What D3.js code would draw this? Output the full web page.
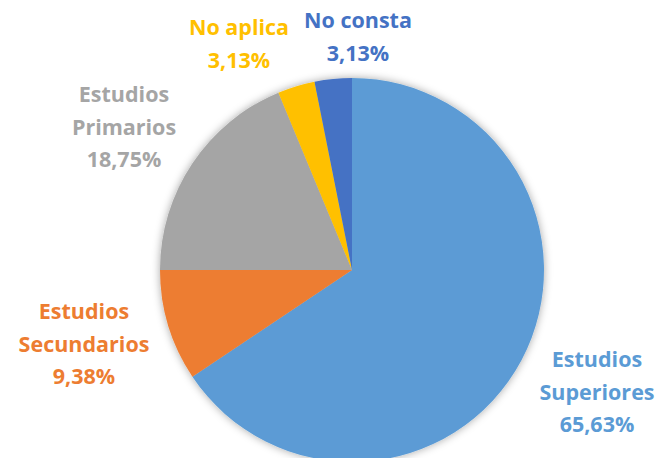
<!DOCTYPE html>
<html><head><meta charset="utf-8">
<script src="https://cdn.jsdelivr.net/npm/d3@7"></script>
<style>html,body{margin:0;padding:0;background:#fff;}</style>
</head><body>
<svg id="chart" width="662" height="458"></svg>
<script>
const categories = ["Estudios Superiores", "Estudios Secundarios", "Estudios Primarios", "No aplica", "No consta"];
const values = [65.63, 9.38, 18.75, 3.13, 3.13];
const valueLabels = ["65,63%", "9,38%", "18,75%", "3,13%", "3,13%"];
const labelLines = [["Estudios", "Superiores"], ["Estudios", "Secundarios"], ["Estudios", "Primarios"], ["No aplica"], ["No consta"]];
const colors = ["#5B9BD5", "#ED7D31", "#A5A5A5", "#FFC000", "#4472C4"];

const svg = d3.select("#chart");
const cx = 352, cy = 270, r = 192;

const defs = svg.append("defs");
const f = defs.append("filter").attr("id", "sh").attr("x", "-20%").attr("y", "-20%").attr("width", "140%").attr("height", "140%");
f.append("feDropShadow").attr("dx", 0).attr("dy", 0).attr("stdDeviation", 4).attr("flood-color", "#000").attr("flood-opacity", 0.35);

const pie = d3.pie().sort(null).value(d => d)(values);
const arc = d3.arc().innerRadius(0).outerRadius(r);

const g = svg.append("g").attr("transform", `translate(${cx},${cy})`);
g.append("g").attr("filter", "url(#sh)")
  .selectAll("path").data(pie).join("path")
  .attr("d", arc).attr("fill", (d, i) => colors[i]);

// label anchor positions (center x, first baseline y)
const labelPos = [[597, 367], [84, 319], [124, 102], [239, 35], [358, 28]];
const lineH = 32.7;
const lbl = svg.append("g").attr("font-family", "'Open Sans', sans-serif").attr("font-weight", "bold").attr("font-size", 21.5);
categories.forEach((c, i) => {
  const lines = labelLines[i].concat([valueLabels[i]]);
  const t = lbl.append("text").attr("text-anchor", "middle").attr("fill", colors[i]);
  lines.forEach((ln, j) => {
    t.append("tspan").attr("x", labelPos[i][0]).attr("y", labelPos[i][1] + j * lineH).text(ln);
  });
});
</script>
</body></html>
